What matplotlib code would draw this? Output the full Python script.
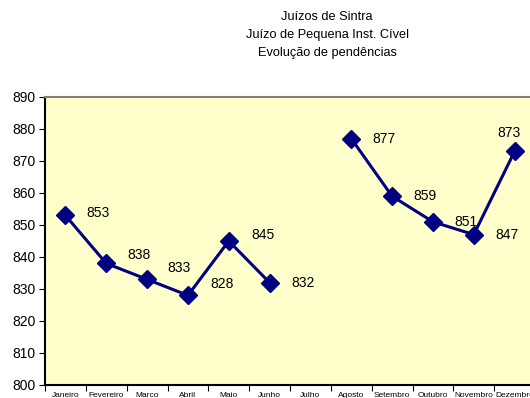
import numpy as np
import matplotlib
matplotlib.use('Agg')
import matplotlib.pyplot as plt

plt.rcParams['font.family'] = ['Liberation Sans', 'DejaVu Sans']

meses = ['Janeiro', 'Fevereiro', 'Marco', 'Abril', 'Maio', 'Junho', 'Julho',
         'Agosto', 'Setembro', 'Outubro', 'Novembro', 'Dezembro']
pendencias = [853, 838, 833, 828, 845, 832, np.nan, 877, 859, 851, 847, 873]

# label offsets in pixels (dx, dy)
label_off = [(33, 2), (33, 8), (32, 11), (34, 11), (34, 6), (33, 0), (0, 0),
             (33, 0), (33, 0), (33, 0), (33, 0), (-6, 18)]

fig = plt.figure(figsize=(5.30, 3.98), dpi=100)
ax = fig.add_axes([45 / 530, 13 / 398, 490 / 530, 288 / 398])
ax.set_facecolor('#FFFFCC')

x = np.arange(len(meses))
ax.plot(x, pendencias, color='#000080', lw=2.2, marker='D', markersize=9.5,
        markerfacecolor='#000080', markeredgecolor='#000080')

for i, v in enumerate(pendencias):
    if np.isnan(v):
        continue
    ax.annotate(str(int(v)), (x[i], v), xytext=label_off[i],
                textcoords='offset pixels', ha='center', va='center',
                fontsize=10, color='black')

ax.set_xlim(-0.5, len(meses) - 0.5)
ax.set_ylim(800, 890)
ax.set_yticks(range(800, 891, 10))
ax.tick_params(axis='y', labelsize=10, length=4, width=0.8, direction='out', pad=3)

ax.set_xticks(x)
ax.set_xticklabels(meses, fontsize=6)
ax.set_xticks(np.arange(-0.5, len(meses), 1), minor=True)
ax.tick_params(axis='x', which='major', length=0, pad=5)
ax.tick_params(axis='x', which='minor', length=4, width=0.8, direction='out')

ax.spines['left'].set_color('black')
ax.spines['left'].set_linewidth(1.5)
ax.spines['bottom'].set_color('black')
ax.spines['bottom'].set_linewidth(1.5)
ax.spines['top'].set_color('#808080')
ax.spines['top'].set_linewidth(1.5)
ax.spines['right'].set_color('#808080')
ax.spines['right'].set_linewidth(1.5)

fig.text(327 / 530, 1 - 17 / 398, 'Juízos de Sintra', ha='center', va='center', fontsize=9.2)
fig.text(327 / 530, 1 - 35 / 398, 'Juízo de Pequena Inst. Cível', ha='center', va='center', fontsize=9.2)
fig.text(327 / 530, 1 - 53 / 398, 'Evolução de pendências', ha='center', va='center', fontsize=9.2)

fig.savefig('out.png', dpi=100)
